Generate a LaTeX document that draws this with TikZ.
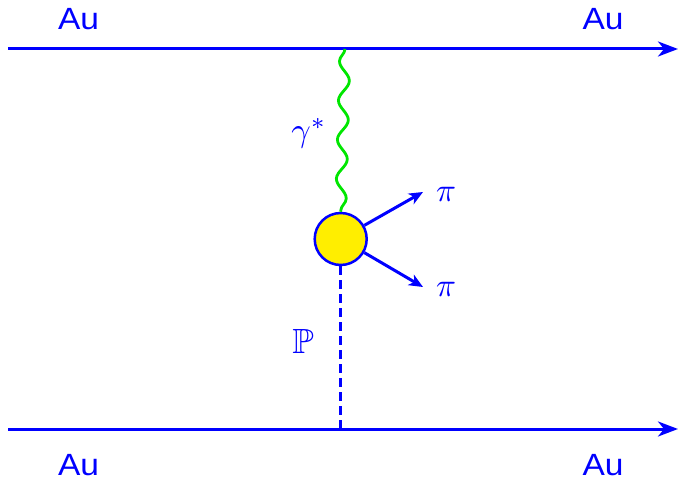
\documentclass[tikz,border=0pt]{standalone}
\usepackage{fontspec}
\newfontfamily\aufont{Liberation Sans}
\usepackage{amssymb}
\usetikzlibrary{decorations.pathmorphing,arrows.meta}
\definecolor{fblue}{RGB}{0,0,255}
\definecolor{fgreen}{RGB}{0,230,0}
\definecolor{fyellow}{RGB}{255,238,0}
\begin{document}
\begin{tikzpicture}[x=1pt,y=-1pt,
  beam/.style={fblue, line width=3pt, -{Stealth[length=20pt,width=15pt,inset=6pt]}},
  photon/.style={fgreen, line width=2.8pt, decorate, decoration={snake, segment length=39.2pt, amplitude=5.2pt, mirror, pre length=0pt, post length=0pt}},
  pomeron/.style={fblue, line width=3pt, dash pattern=on 9pt off 5pt},
  pionline/.style={fblue, line width=3pt, -{Stealth[length=14pt,width=12pt,inset=4pt]}},
  blobstyle/.style={circle, draw=fblue, fill=fyellow, line width=2.5pt, minimum size=52pt, inner sep=0pt},
  lbl/.style={text=fblue, inner sep=0pt, anchor=base}]
\useasboundingbox (0,0) rectangle (680,481);
% beams
\coordinate (tl) at (8,49);
\coordinate (tr) at (678,49);
\coordinate (bl) at (8,429);
\coordinate (br) at (678,429);
\draw[beam] (tl) -- (tr);
\draw[beam] (bl) -- (br);
% vertices
\coordinate (gv) at (345,49);
\coordinate (pv) at (340.7,429);
\node[blobstyle] (blob) at (340.7,239) {};
\draw[photon] (gv) -- (blob.north);
\draw[pomeron] (blob.south) -- (pv);
% pions
\coordinate (p1) at (423,192);
\coordinate (p2) at (423,287);
\draw[pionline] (blob.30) -- (p1);
\draw[pionline] (blob.-30) -- (p2);
% labels
\node[lbl] (autl) at (78.5,30) {\scalebox{3.35}[3.07]{\aufont Au}};
\node[lbl] (autr) at (603,30) {\scalebox{3.35}[3.07]{\aufont Au}};
\node[lbl] (aubl) at (78.5,475) {\scalebox{3.35}[3.07]{\aufont Au}};
\node[lbl] (aubr) at (603,475) {\scalebox{3.35}[3.07]{\aufont Au}};
\node[lbl] (gam) at (309,142) {\scalebox{3.4}{$\gamma^*$}};
\node[lbl] (pi1) at (446,201.5) {\scalebox{3.3}{$\pi$}};
\node[lbl] (pi2) at (446,296.5) {\scalebox{3.3}{$\pi$}};
\node[lbl] (pom) at (303,353) {\scalebox{3.5}{$\mathbb{P}$}};
\end{tikzpicture}
\end{document}
